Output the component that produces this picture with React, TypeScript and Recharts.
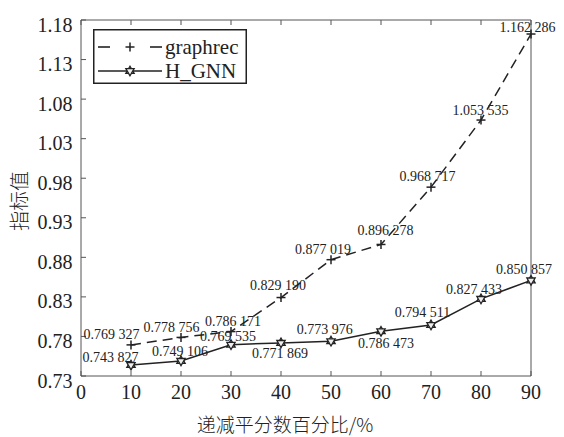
import React from 'react';
import { LineChart, Line, XAxis, YAxis, Legend, LabelList, Label } from 'recharts';

const CATEGORIES = [10, 20, 30, 40, 50, 60, 70, 80, 90];
const GRAPHREC = [0.769327, 0.778756, 0.786171, 0.82919, 0.877019, 0.896278, 0.968717, 1.053535, 1.162286];
const HGNN = [0.743827, 0.749106, 0.769535, 0.771869, 0.773976, 0.786473, 0.794511, 0.827433, 0.850857];
const X_TICKS = [0, 10, 20, 30, 40, 50, 60, 70, 80, 90];
const Y_TICKS = [0.73, 0.78, 0.83, 0.88, 0.93, 0.98, 1.03, 1.08, 1.13, 1.18];
const SERIES_NAMES = ['graphrec', 'H_GNN'];
const X_TITLE = '递减平分数百分比/%';
const Y_TITLE = '指标值';

// label placement (style only): [dx, dy] from each point
const GRAPHREC_LABEL_OFFSETS = [
  [-19.5, -10], [-9.5, -9.5], [2, -10], [-3, -12.5], [-8, -10.4],
  [4.5, -13.5], [-3.5, -10.5], [-0.5, -10], [-3.5, -6.7],
];
const HGNN_LABEL_OFFSETS = [
  [-20.5, -7.4], [-1, -9.3], [-3, -8], [-1, 11], [-6.3, -12],
  [5, 12], [-8.5, -12.7], [-7, -9], [-7, -11.2],
];

const data = CATEGORIES.map((c, i) => ({ x: c, graphrec: GRAPHREC[i], hgnn: HGNN[i] }));

const SERIF = "'Liberation Serif', 'Times New Roman', Times, serif";
const CJK = "'Noto Sans CJK SC', sans-serif";
const INK = '#222';
const AXIS = '#555';

const fmt = (v: number) => {
  const s = v.toFixed(6);
  return s.slice(0, s.length - 3) + ' ' + s.slice(s.length - 3);
};

const LeftTick = (p: any) => {
  const { x, y, payload } = p;
  return (
    <g>
      <line x1={x} x2={x + 5} y1={y} y2={y} stroke={AXIS} strokeWidth={1} />
      <text x={x - 8.5} y={y + 4.5} textAnchor="end" dominantBaseline="central"
        fontFamily={SERIF} style={{ fontFamily: SERIF }} fontSize={20} fill="#222">{Number(payload.value).toFixed(2)}</text>
    </g>
  );
};
const BottomTick = (p: any) => {
  const { x, y, payload } = p;
  return (
    <g>
      <line x1={x} x2={x} y1={y} y2={y - 5} stroke={AXIS} strokeWidth={1} />
      <text x={x} y={y + 16} textAnchor="middle" dominantBaseline="central"
        fontFamily={SERIF} style={{ fontFamily: SERIF }} fontSize={20} fill="#222">{payload.value}</text>
    </g>
  );
};
const TopTick = (p: any) => {
  const { x, y } = p;
  return <line x1={x} x2={x} y1={y} y2={y + 5} stroke={AXIS} strokeWidth={1} />;
};
const RightTick = (p: any) => {
  const { x, y } = p;
  return <line x1={x} x2={x - 5} y1={y} y2={y} stroke={AXIS} strokeWidth={1} />;
};

const PlusMark = ({ cx, cy }: { cx: number; cy: number }) => (
  <g>
    <line x1={cx - 4.5} x2={cx + 4.5} y1={cy} y2={cy} stroke={INK} strokeWidth={1.5} />
    <line x1={cx} x2={cx} y1={cy - 4.5} y2={cy + 4.5} stroke={INK} strokeWidth={1.5} />
  </g>
);

const hexPts = (cx: number, cy: number, r: number, start: number) =>
  [0, 1, 2].map((k) => {
    const a = ((start + k * 120) * Math.PI) / 180;
    return `${cx + r * Math.cos(a)},${cy + r * Math.sin(a)}`;
  }).join(' ');

const StarMark = ({ cx, cy }: { cx: number; cy: number }) => (
  <g>
    <polygon points={hexPts(cx, cy, 4.8, -90)} fill="#eee" stroke={INK} strokeWidth={1.3} />
    <polygon points={hexPts(cx, cy, 4.8, 90)} fill="#eee" stroke={INK} strokeWidth={1.3} />
  </g>
);

const makeLabel = (offsets: number[][]) => (p: any) => {
  const { x, y, value, index } = p;
  const [dx, dy] = offsets[index] || [0, -10];
  return (
    <text x={x + dx} y={y + dy} textAnchor="middle" dominantBaseline="central"
      fontFamily={SERIF} style={{ fontFamily: SERIF }} fontSize={14} fill="#222">{fmt(Number(value))}</text>
  );
};

const LegendBox = () => (
  <svg width={154} height={55} style={{ display: 'block' }}>
    <rect x={0.75} y={0.75} width={152.5} height={53.5} fill="#fff" stroke={INK} strokeWidth={1.5} />
    <line x1={5} x2={17} y1={18} y2={18} stroke={INK} strokeWidth={1.6} />
    <PlusMark cx={37} cy={18} />
    <line x1={57} x2={69} y1={18} y2={18} stroke={INK} strokeWidth={1.6} />
    <text x={72} y={18} dominantBaseline="central" fontFamily={SERIF} style={{ fontFamily: SERIF }} fontSize={21} fill="#222">{SERIES_NAMES[0]}</text>
    <line x1={5} x2={69} y1={42} y2={42} stroke={INK} strokeWidth={1.5} />
    <StarMark cx={37} cy={42} />
    <text x={72} y={42} dominantBaseline="central" fontFamily={SERIF} style={{ fontFamily: SERIF }} fontSize={21} fill="#222">{SERIES_NAMES[1]}</text>
  </svg>
);

export default function App() {
  return (
    <div style={{ position: 'absolute', left: 0, top: 0, width: 564, height: 437, background: '#fff', fontFamily: SERIF }}>
      <LineChart width={564} height={437} data={data}
        margin={{ top: 10, right: 23, bottom: 31, left: 21 }}>
        <XAxis dataKey="x" type="number" domain={[0, 90]} ticks={X_TICKS} interval={0}
          height={30} tickSize={0} tickMargin={0} tick={<BottomTick />}
          axisLine={{ stroke: AXIS, strokeWidth: 1 }} tickLine={false}>
          <Label content={() => (
            <text x={285} y={423} textAnchor="middle" dominantBaseline="central"
              fontFamily={CJK} style={{ fontFamily: CJK }} fontWeight={300} fontSize={19} fill="#222">{X_TITLE}</text>
          )} />
        </XAxis>
        <XAxis xAxisId="top" orientation="top" dataKey="x" type="number" domain={[0, 90]}
          ticks={X_TICKS} interval={0} height={10} tickSize={0} tickMargin={0}
          tick={<TopTick />} axisLine={{ stroke: AXIS, strokeWidth: 1 }} tickLine={false} />
        <YAxis type="number" domain={[0.73, 1.18]} ticks={Y_TICKS} interval={0}
          width={60} tickSize={0} tickMargin={0} tick={<LeftTick />}
          axisLine={{ stroke: AXIS, strokeWidth: 1 }} tickLine={false} allowDataOverflow>
          <Label content={() => (
            <text x={18.5} y={201} textAnchor="middle" dominantBaseline="central"
              transform="rotate(-90 18.5 201)" fontFamily={CJK} style={{ fontFamily: CJK }} fontWeight={300} fontSize={20} fill="#222">{Y_TITLE}</text>
          )} />
        </YAxis>
        <YAxis yAxisId="right" orientation="right" type="number" domain={[0.73, 1.18]}
          ticks={Y_TICKS} interval={0} width={10} tickSize={0} tickMargin={0}
          tick={<RightTick />} axisLine={{ stroke: AXIS, strokeWidth: 1 }} tickLine={false} />
        <Legend layout="vertical" align="center" verticalAlign="middle"
          wrapperStyle={{ position: 'absolute', left: 93, top: 29, width: 154, height: 55 }}
          content={() => <LegendBox />} />
        <Line dataKey="graphrec" name={SERIES_NAMES[0]} stroke={INK} strokeWidth={1.5}
          strokeDasharray="10 6" isAnimationActive={false}
          dot={(p: any) => <PlusMark key={`g${p.index}`} cx={p.cx} cy={p.cy} />}
          activeDot={false}>
          <LabelList dataKey="graphrec" content={makeLabel(GRAPHREC_LABEL_OFFSETS)} />
        </Line>
        <Line dataKey="hgnn" name={SERIES_NAMES[1]} stroke={INK} strokeWidth={1.5}
          isAnimationActive={false}
          dot={(p: any) => <StarMark key={`h${p.index}`} cx={p.cx} cy={p.cy} />}
          activeDot={false}>
          <LabelList dataKey="hgnn" content={makeLabel(HGNN_LABEL_OFFSETS)} />
        </Line>
      </LineChart>
    </div>
  );
}
